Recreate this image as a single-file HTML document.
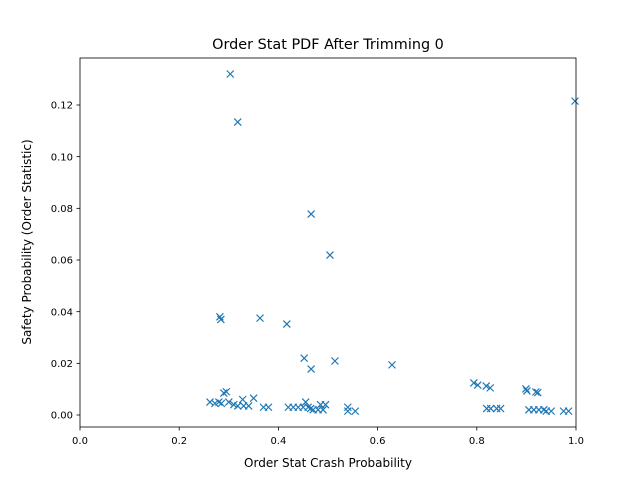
<!DOCTYPE html>
<html><head><meta charset="utf-8"><style>
body{margin:0;background:#fff}
svg text{font-family:"DejaVu Sans","Liberation Sans",sans-serif;fill:#000}
</style></head><body>
<svg id="chart" width="640" height="480" viewBox="0 0 640 480">
<rect width="640" height="480" fill="#fff"/>
<text x="328" y="49" font-size="14.4" text-anchor="middle">Order Stat PDF After Trimming 0</text>
<g id="marks"></g>
<g id="axes"></g>
<rect x="80" y="58" width="496" height="369" fill="none" stroke="#000" stroke-width="0.8"/>
<text x="328" y="467" font-size="12" text-anchor="middle">Order Stat Crash Probability</text>
<text transform="translate(31,242) rotate(-90)" font-size="12" text-anchor="middle">Safety Probability (Order Statistic)</text>
</svg>
<script>
const xVals=[0.303,0.318,0.466,0.504,0.282,0.284,0.363,0.417,0.452,0.466,0.514,0.629,0.794,0.802,0.819,0.827,0.899,0.901,0.919,0.923,0.998,
0.262,0.272,0.28,0.285,0.29,0.295,0.30,0.31,0.318,0.328,0.33,0.34,0.35,0.37,0.38,0.42,0.43,0.44,0.45,0.455,0.46,0.465,0.47,0.48,0.485,0.49,0.495,0.54,0.54,0.555,0.82,0.828,0.84,0.848,0.905,0.915,0.925,0.935,0.94,0.95,0.975,0.985];
const yVals=[0.132,0.1134,0.0778,0.0619,0.038,0.037,0.0375,0.0352,0.022,0.0178,0.0209,0.0194,0.0124,0.0116,0.0112,0.0105,0.0101,0.0093,0.0089,0.0087,0.1215,
0.005,0.0045,0.005,0.0045,0.0085,0.009,0.005,0.004,0.0035,0.006,0.0035,0.0035,0.0065,0.003,0.003,0.003,0.003,0.003,0.003,0.005,0.003,0.0025,0.002,0.002,0.004,0.002,0.004,0.003,0.0015,0.0015,0.0025,0.0025,0.0025,0.0025,0.002,0.002,0.002,0.002,0.0015,0.0015,0.0015,0.0015];
const xTicks=[0,0.2,0.4,0.6,0.8,1.0];
const xTickLabels=["0.0","0.2","0.4","0.6","0.8","1.0"];
const yTicks=[0,0.02,0.04,0.06,0.08,0.10,0.12];
const yTickLabels=["0.00","0.02","0.04","0.06","0.08","0.10","0.12"];
const NS="http://www.w3.org/2000/svg";
const X=v=>80+v*496;
const Y=v=>415-v*2583.3;
const marks=document.getElementById('marks');
const axes=document.getElementById('axes');
function mk(t,a,p){const e=document.createElementNS(NS,t);for(const k in a)e.setAttribute(k,a[k]);p.appendChild(e);return e;}
xVals.forEach((xv,i)=>{
  const cx=X(xv),cy=Y(yVals[i]),r=3.5;
  const p=mk('path',{d:`M${cx-r},${cy-r}L${cx+r},${cy+r}M${cx-r},${cy+r}L${cx+r},${cy-r}`,stroke:'#1f77b4','stroke-width':1.2,fill:'none'},marks);
  
  
});
xTicks.forEach((t,i)=>{
  const l=mk('line',{x1:X(t),x2:X(t),y1:427,y2:430.5,stroke:'#000','stroke-width':0.8},axes);
  
  
  const tx=mk('text',{x:X(t),y:444,'font-size':10,'text-anchor':'middle'},axes);
  tx.textContent=xTickLabels[i];
  
  
});
yTicks.forEach((t,i)=>{
  const l=mk('line',{x1:76.5,x2:80,y1:Y(t),y2:Y(t),stroke:'#000','stroke-width':0.8},axes);
  
  
  const tx=mk('text',{x:73,y:Y(t)+3.6,'font-size':10,'text-anchor':'end'},axes);
  tx.textContent=yTickLabels[i];
  
  
});
</script>
</body></html>
